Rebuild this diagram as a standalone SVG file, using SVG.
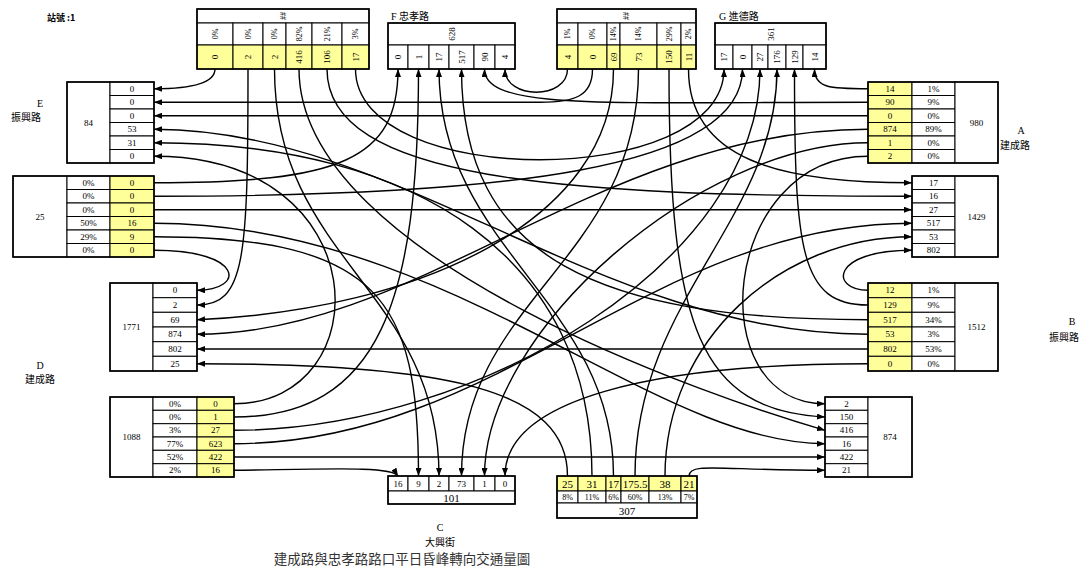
<svg xmlns="http://www.w3.org/2000/svg" width="1083" height="569" viewBox="0 0 1083 569">
<style>
rect{fill:#fff;stroke:#000;stroke-width:1}
rect.y{fill:#ffff99}
rect.o{fill:none;stroke-width:1.6}
text{font-family:"Liberation Serif","Noto Sans CJK TC",serif;font-size:9px;text-anchor:middle;dominant-baseline:central;fill:#000}
text.p{font-size:8px}
text.b{font-size:11px}
text.l{font-family:"Liberation Serif","Noto Sans CJK TC",serif;font-size:10px}
text.s{text-anchor:start}
path.c{fill:none;stroke:#000;stroke-width:1.4;marker-end:url(#ah)}
</style>
<defs>
<marker id="ah" viewBox="0 0 8 6" refX="8" refY="3" markerWidth="8" markerHeight="6" orient="auto" markerUnits="userSpaceOnUse"><path d="M0,0 L8,3 L0,6 z" fill="#000"/></marker>
</defs>
<rect x="0" y="0" width="1083" height="569" style="fill:#fff;stroke:none"/>
<text class="s" x="47" y="17" style="font-family:'Noto Sans CJK TC',sans-serif;font-weight:bold;font-size:9px">站號 :1</text>

<g id="F-src">
<rect x="197" y="9" width="172" height="14"/>
<text class="p" transform="translate(283,16) rotate(-90)">##</text>
<rect x="197" y="23" width="36" height="22"/><rect x="233" y="23" width="30" height="22"/><rect x="263" y="23" width="23" height="22"/><rect x="286" y="23" width="26" height="22"/><rect x="312" y="23" width="30" height="22"/><rect x="342" y="23" width="27" height="22"/>
<rect class="y" x="197" y="45" width="36" height="24"/><rect class="y" x="233" y="45" width="30" height="24"/><rect class="y" x="263" y="45" width="23" height="24"/><rect class="y" x="286" y="45" width="26" height="24"/><rect class="y" x="312" y="45" width="30" height="24"/><rect class="y" x="342" y="45" width="27" height="24"/>
<rect class="o" x="197" y="9" width="172" height="60"/>
<text class="p" transform="translate(215,34) rotate(-90)">0%</text><text class="p" transform="translate(248,34) rotate(-90)">0%</text><text class="p" transform="translate(274.5,34) rotate(-90)">0%</text><text class="p" transform="translate(299,34) rotate(-90)">82%</text><text class="p" transform="translate(327,34) rotate(-90)">21%</text><text class="p" transform="translate(355.5,34) rotate(-90)">3%</text>
<text transform="translate(215,57) rotate(-90)">0</text><text transform="translate(248,57) rotate(-90)">2</text><text transform="translate(274.5,57) rotate(-90)">2</text><text transform="translate(299,57) rotate(-90)">416</text><text transform="translate(327,57) rotate(-90)">106</text><text transform="translate(355.5,57) rotate(-90)">17</text>
</g>

<g id="F-dst">
<text class="l s" x="391" y="16">F  忠孝路</text>
<rect x="388" y="23" width="127" height="22"/>
<text transform="translate(451.5,34) rotate(-90)">628</text>
<rect x="388" y="45" width="20" height="24"/><rect x="408" y="45" width="21" height="24"/><rect x="429" y="45" width="20" height="24"/><rect x="449" y="45" width="25" height="24"/><rect x="474" y="45" width="21" height="24"/><rect x="495" y="45" width="20" height="24"/>
<rect class="o" x="388" y="23" width="127" height="46"/>
<text transform="translate(398,57) rotate(-90)">0</text><text transform="translate(418.5,57) rotate(-90)">1</text><text transform="translate(439,57) rotate(-90)">17</text><text transform="translate(461.5,57) rotate(-90)">517</text><text transform="translate(484.5,57) rotate(-90)">90</text><text transform="translate(505,57) rotate(-90)">4</text>
</g>

<g id="G-src">
<rect x="557" y="9" width="139" height="14"/>
<text class="p" transform="translate(626.5,16) rotate(-90)">##</text>
<rect x="557" y="23" width="21" height="22"/><rect x="578" y="23" width="29" height="22"/><rect x="607" y="23" width="13" height="22"/><rect x="620" y="23" width="37" height="22"/><rect x="657" y="23" width="24" height="22"/><rect x="681" y="23" width="15" height="22"/>
<rect class="y" x="557" y="45" width="21" height="24"/><rect class="y" x="578" y="45" width="29" height="24"/><rect class="y" x="607" y="45" width="13" height="24"/><rect class="y" x="620" y="45" width="37" height="24"/><rect class="y" x="657" y="45" width="24" height="24"/><rect class="y" x="681" y="45" width="15" height="24"/>
<rect class="o" x="557" y="9" width="139" height="60"/>
<text class="p" transform="translate(567.5,34) rotate(-90)">1%</text><text class="p" transform="translate(592.5,34) rotate(-90)">0%</text><text class="p" transform="translate(613.5,34) rotate(-90)">14%</text><text class="p" transform="translate(638.5,34) rotate(-90)">14%</text><text class="p" transform="translate(669,34) rotate(-90)">29%</text><text class="p" transform="translate(688.5,34) rotate(-90)">2%</text>
<text transform="translate(567.5,57) rotate(-90)">4</text><text transform="translate(592.5,57) rotate(-90)">0</text><text transform="translate(613.5,57) rotate(-90)">69</text><text transform="translate(638.5,57) rotate(-90)">73</text><text transform="translate(669,57) rotate(-90)">150</text><text transform="translate(688.5,57) rotate(-90)">11</text>
</g>

<g id="G-dst">
<text class="l s" x="719" y="16">G  進德路</text>
<rect x="715" y="23" width="111" height="22"/>
<text transform="translate(770.5,34) rotate(-90)">361</text>
<rect x="715" y="45" width="18" height="24"/><rect x="733" y="45" width="19" height="24"/><rect x="752" y="45" width="16" height="24"/><rect x="768" y="45" width="18" height="24"/><rect x="786" y="45" width="17" height="24"/><rect x="803" y="45" width="23" height="24"/>
<rect class="o" x="715" y="23" width="111" height="46"/>
<text transform="translate(724,57) rotate(-90)">17</text><text transform="translate(742.5,57) rotate(-90)">0</text><text transform="translate(760,57) rotate(-90)">27</text><text transform="translate(777,57) rotate(-90)">176</text><text transform="translate(794.5,57) rotate(-90)">129</text><text transform="translate(814.5,57) rotate(-90)">14</text>
</g>

<g id="E-dst">
<text class="l" x="40" y="103">E</text>
<text class="l s" x="11" y="117">振興路</text>
<rect x="67" y="82" width="43" height="81"/>
<text x="88.5" y="122.5">84</text>
<rect x="110" y="82" width="44" height="13.5"/><rect x="110" y="95.5" width="44" height="13.5"/><rect x="110" y="109" width="44" height="13.5"/><rect x="110" y="122.5" width="44" height="13.5"/><rect x="110" y="136" width="44" height="13.5"/><rect x="110" y="149.5" width="44" height="13.5"/>
<rect class="o" x="67" y="82" width="87" height="81"/>
<text x="132" y="88.75">0</text><text x="132" y="102.25">0</text><text x="132" y="115.75">0</text><text x="132" y="129.25">53</text><text x="132" y="142.75">31</text><text x="132" y="156.25">0</text>
</g>

<g id="E-src">
<rect x="13" y="176" width="54" height="81"/>
<text x="40" y="216.5">25</text>
<rect x="67" y="176" width="43" height="13.5"/><rect x="67" y="189.5" width="43" height="13.5"/><rect x="67" y="203" width="43" height="13.5"/><rect x="67" y="216.5" width="43" height="13.5"/><rect x="67" y="230" width="43" height="13.5"/><rect x="67" y="243.5" width="43" height="13.5"/>
<rect class="y" x="110" y="176" width="44" height="13.5"/><rect class="y" x="110" y="189.5" width="44" height="13.5"/><rect class="y" x="110" y="203" width="44" height="13.5"/><rect class="y" x="110" y="216.5" width="44" height="13.5"/><rect class="y" x="110" y="230" width="44" height="13.5"/><rect class="y" x="110" y="243.5" width="44" height="13.5"/>
<rect class="o" x="13" y="176" width="141" height="81"/>
<text x="88.5" y="182.75">0%</text><text x="88.5" y="196.25">0%</text><text x="88.5" y="209.75">0%</text><text x="88.5" y="223.25">50%</text><text x="88.5" y="236.75">29%</text><text x="88.5" y="250.25">0%</text>
<text x="132" y="182.75">0</text><text x="132" y="196.25">0</text><text x="132" y="209.75">0</text><text x="132" y="223.25">16</text><text x="132" y="236.75">9</text><text x="132" y="250.25">0</text>
</g>

<g id="D-dst">
<text class="l" x="40" y="365">D</text>
<text class="l" x="40" y="379">建成路</text>
<rect x="110" y="283" width="43" height="88"/>
<text x="131.5" y="327">1771</text>
<rect x="153" y="283" width="44" height="14.7"/><rect x="153" y="297.7" width="44" height="14.6"/><rect x="153" y="312.3" width="44" height="14.7"/><rect x="153" y="327" width="44" height="14.7"/><rect x="153" y="341.7" width="44" height="14.6"/><rect x="153" y="356.3" width="44" height="14.7"/>
<rect class="o" x="110" y="283" width="87" height="88"/>
<text x="175" y="290.3">0</text><text x="175" y="305">2</text><text x="175" y="319.7">69</text><text x="175" y="334.3">874</text><text x="175" y="349">802</text><text x="175" y="363.7">25</text>
</g>

<g id="D-src">
<rect x="110" y="397" width="43" height="80"/>
<text x="131.5" y="437">1088</text>
<rect x="153" y="397" width="44" height="13.3"/><rect x="153" y="410.3" width="44" height="13.4"/><rect x="153" y="423.7" width="44" height="13.3"/><rect x="153" y="437" width="44" height="13.3"/><rect x="153" y="450.3" width="44" height="13.4"/><rect x="153" y="463.7" width="44" height="13.3"/>
<rect class="y" x="197" y="397" width="37" height="13.3"/><rect class="y" x="197" y="410.3" width="37" height="13.4"/><rect class="y" x="197" y="423.7" width="37" height="13.3"/><rect class="y" x="197" y="437" width="37" height="13.3"/><rect class="y" x="197" y="450.3" width="37" height="13.4"/><rect class="y" x="197" y="463.7" width="37" height="13.3"/>
<rect class="o" x="110" y="397" width="124" height="80"/>
<text x="175" y="403.7">0%</text><text x="175" y="417">0%</text><text x="175" y="430.3">3%</text><text x="175" y="443.7">77%</text><text x="175" y="457">52%</text><text x="175" y="470.3">2%</text>
<text x="215.5" y="403.7">0</text><text x="215.5" y="417">1</text><text x="215.5" y="430.3">27</text><text x="215.5" y="443.7">623</text><text x="215.5" y="457">422</text><text x="215.5" y="470.3">16</text>
</g>

<g id="A-src">
<text class="l" x="1021" y="130">A</text>
<text class="l" x="1015" y="145">建成路</text>
<rect class="y" x="868" y="82" width="44" height="13.5"/><rect class="y" x="868" y="95.5" width="44" height="13.5"/><rect class="y" x="868" y="109" width="44" height="13.5"/><rect class="y" x="868" y="122.5" width="44" height="13.5"/><rect class="y" x="868" y="136" width="44" height="13.5"/><rect class="y" x="868" y="149.5" width="44" height="13.5"/>
<rect x="912" y="82" width="43" height="13.5"/><rect x="912" y="95.5" width="43" height="13.5"/><rect x="912" y="109" width="43" height="13.5"/><rect x="912" y="122.5" width="43" height="13.5"/><rect x="912" y="136" width="43" height="13.5"/><rect x="912" y="149.5" width="43" height="13.5"/>
<rect x="955" y="82" width="43" height="81"/>
<rect class="o" x="868" y="82" width="130" height="81"/>
<text x="976.5" y="122.5">980</text>
<text x="890" y="88.75">14</text><text x="890" y="102.25">90</text><text x="890" y="115.75">0</text><text x="890" y="129.25">874</text><text x="890" y="142.75">1</text><text x="890" y="156.25">2</text>
<text x="933.5" y="88.75">1%</text><text x="933.5" y="102.25">9%</text><text x="933.5" y="115.75">0%</text><text x="933.5" y="129.25">89%</text><text x="933.5" y="142.75">0%</text><text x="933.5" y="156.25">0%</text>
</g>

<g id="A-dst">
<rect x="912" y="176" width="43" height="13.5"/><rect x="912" y="189.5" width="43" height="13.5"/><rect x="912" y="203" width="43" height="13.5"/><rect x="912" y="216.5" width="43" height="13.5"/><rect x="912" y="230" width="43" height="13.5"/><rect x="912" y="243.5" width="43" height="13.5"/>
<rect x="955" y="176" width="43" height="81"/>
<rect class="o" x="912" y="176" width="86" height="81"/>
<text x="976.5" y="216.5">1429</text>
<text x="933.5" y="182.75">17</text><text x="933.5" y="196.25">16</text><text x="933.5" y="209.75">27</text><text x="933.5" y="223.25">517</text><text x="933.5" y="236.75">53</text><text x="933.5" y="250.25">802</text>
</g>

<g id="B-src">
<text class="l" x="1072" y="321">B</text>
<text class="l" x="1064" y="337">振興路</text>
<rect class="y" x="868" y="283" width="44" height="14.7"/><rect class="y" x="868" y="297.7" width="44" height="14.6"/><rect class="y" x="868" y="312.3" width="44" height="14.7"/><rect class="y" x="868" y="327" width="44" height="14.7"/><rect class="y" x="868" y="341.7" width="44" height="14.6"/><rect class="y" x="868" y="356.3" width="44" height="14.7"/>
<rect x="912" y="283" width="43" height="14.7"/><rect x="912" y="297.7" width="43" height="14.6"/><rect x="912" y="312.3" width="43" height="14.7"/><rect x="912" y="327" width="43" height="14.7"/><rect x="912" y="341.7" width="43" height="14.6"/><rect x="912" y="356.3" width="43" height="14.7"/>
<rect x="955" y="283" width="43" height="88"/>
<rect class="o" x="868" y="283" width="130" height="88"/>
<text x="976.5" y="327">1512</text>
<text x="890" y="290.3">12</text><text x="890" y="305">129</text><text x="890" y="319.7">517</text><text x="890" y="334.3">53</text><text x="890" y="349">802</text><text x="890" y="363.7">0</text>
<text x="933.5" y="290.3">1%</text><text x="933.5" y="305">9%</text><text x="933.5" y="319.7">34%</text><text x="933.5" y="334.3">3%</text><text x="933.5" y="349">53%</text><text x="933.5" y="363.7">0%</text>
</g>

<g id="B-dst">
<rect x="825" y="397" width="43" height="13.3"/><rect x="825" y="410.3" width="43" height="13.4"/><rect x="825" y="423.7" width="43" height="13.3"/><rect x="825" y="437" width="43" height="13.3"/><rect x="825" y="450.3" width="43" height="13.4"/><rect x="825" y="463.7" width="43" height="13.3"/>
<rect x="868" y="397" width="44" height="80"/>
<rect class="o" x="825" y="397" width="87" height="80"/>
<text x="890" y="437">874</text>
<text x="846.5" y="403.7">2</text><text x="846.5" y="417">150</text><text x="846.5" y="430.3">416</text><text x="846.5" y="443.7">16</text><text x="846.5" y="457">422</text><text x="846.5" y="470.3">21</text>
</g>

<g id="C-dst">
<rect x="388" y="476" width="20" height="15"/><rect x="408" y="476" width="21" height="15"/><rect x="429" y="476" width="20" height="15"/><rect x="449" y="476" width="25" height="15"/><rect x="474" y="476" width="21" height="15"/><rect x="495" y="476" width="20" height="15"/>
<rect x="388" y="491" width="127" height="13"/>
<rect class="o" x="388" y="476" width="127" height="28"/>
<text x="398" y="483.5">16</text><text x="418.5" y="483.5">9</text><text x="439" y="483.5">2</text><text x="461.5" y="483.5">73</text><text x="484.5" y="483.5">1</text><text x="505" y="483.5">0</text>
<text class="b" x="451.5" y="497.5">101</text>
<text class="l" x="440" y="527">C</text>
<text class="l" x="440" y="542">大興街</text>
</g>

<g id="C-src">
<rect class="y" x="557" y="476" width="21" height="15"/><rect class="y" x="578" y="476" width="28" height="15"/><rect class="y" x="606" y="476" width="15" height="15"/><rect class="y" x="621" y="476" width="28" height="15"/><rect class="y" x="649" y="476" width="32" height="15"/><rect class="y" x="681" y="476" width="16" height="15"/>
<rect x="557" y="491" width="21" height="12"/><rect x="578" y="491" width="28" height="12"/><rect x="606" y="491" width="15" height="12"/><rect x="621" y="491" width="28" height="12"/><rect x="649" y="491" width="32" height="12"/><rect x="681" y="491" width="16" height="12"/>
<rect x="557" y="503" width="140" height="15"/>
<rect class="o" x="557" y="476" width="140" height="42"/>
<text class="b" x="567.5" y="483.5">25</text><text class="b" x="592" y="483.5">31</text><text class="b" x="613.5" y="483.5">17</text><text class="b" x="635" y="483.5">175.5</text><text class="b" x="665" y="483.5">38</text><text class="b" x="689" y="483.5">21</text>
<text class="p" x="567.5" y="497">8%</text><text class="p" x="592" y="497">11%</text><text class="p" x="613.5" y="497">6%</text><text class="p" x="635" y="497">60%</text><text class="p" x="665" y="497">13%</text><text class="p" x="689" y="497">7%</text>
<text class="b" x="627" y="510.5">307</text>
</g>

<text x="402" y="558" style="font-family:'Noto Sans CJK TC',sans-serif;font-size:13.5px;fill:#333">建成路與忠孝路路口平日昏峰轉向交通量圖</text>

<g id="connectors">
<path class="c" d="M215,69 C215,84 190,88.75 154,88.75"/>
<path class="c" d="M248,69 C248,260 245,305 197,305"/>
<path class="c" d="M274.5,69 C274.5,260 439,290 439,476"/>
<path class="c" d="M299,69 C299,260 720,400 825,430.3"/>
<path class="c" d="M327,69 C327,180 560,196.25 912,196.25"/>
<path class="c" d="M355.5,69 C355.5,190 724,190 724,69"/>

<path class="c" d="M567.5,69 C567.5,100 505,100 505,69"/>
<path class="c" d="M592.5,69 C592.5,96 575,102.25 540,102.25 L154,102.25"/>
<path class="c" d="M613.5,69 C613.5,220 420,310 197,319.7"/>
<path class="c" d="M638.5,69 C638.5,260 461.5,300 461.5,476"/>
<path class="c" d="M669,69 C669,330 700,410 825,417"/>
<path class="c" d="M688.5,69 C688.5,160 780,182.75 912,182.75"/>

<path class="c" d="M868,88.75 C830,88.75 814.5,88 814.5,69"/>
<path class="c" d="M868,102.25 C600,102.25 484.5,110 484.5,69"/>
<path class="c" d="M868,115.75 L154,115.75"/>
<path class="c" d="M868,129.25 C600,129.25 420,334.3 197,334.3"/>
<path class="c" d="M868,142.75 C700,142.75 484.5,330 484.5,476"/>
<path class="c" d="M868,156.25 C720,156.25 700,403.7 825,403.7"/>

<path class="c" d="M868,290.3 C830,290.3 830,250.25 912,250.25"/>
<path class="c" d="M868,305 C800,305 794.5,250 794.5,69"/>
<path class="c" d="M868,319.7 C600,319.7 461.5,260 461.5,69"/>
<path class="c" d="M868,334.3 C600,334.3 400,129.25 154,129.25"/>
<path class="c" d="M868,349 L197,349"/>
<path class="c" d="M868,363.7 C650,363.7 505,400 505,476"/>

<path class="c" d="M567.5,476 C567.5,390 450,363.7 197,363.7"/>
<path class="c" d="M592,476 C592,260 420,142.75 154,142.75"/>
<path class="c" d="M613.5,476 C613.5,300 439,250 439,69"/>
<path class="c" d="M635,476 C635,300 777,220 777,69"/>
<path class="c" d="M665,476 C665,340 780,236.75 912,236.75"/>
<path class="c" d="M689,476 C689,462 720,470.3 825,470.3"/>

<path class="c" d="M234,403.7 C380,403.7 380,156.25 154,156.25"/>
<path class="c" d="M234,417 C380,417 418.5,300 418.5,69"/>
<path class="c" d="M234,430.3 C480,430.3 760,260 760,69"/>
<path class="c" d="M234,443.7 C500,443.7 650,223.25 912,223.25"/>
<path class="c" d="M234,457 L825,457"/>
<path class="c" d="M234,470.3 C330,469 392,466 398,476"/>

<path class="c" d="M154,182.75 C340,182.75 398,160 398,69"/>
<path class="c" d="M154,196.25 C500,196.25 742.5,170 742.5,69"/>
<path class="c" d="M154,209.75 L912,209.75"/>
<path class="c" d="M154,223.25 C450,223.25 650,443.7 825,443.7"/>
<path class="c" d="M154,236.75 C380,236.75 418.5,300 418.5,476"/>
<path class="c" d="M154,250.25 C245,250.25 245,290.3 197,290.3"/>
</g>
</svg>
